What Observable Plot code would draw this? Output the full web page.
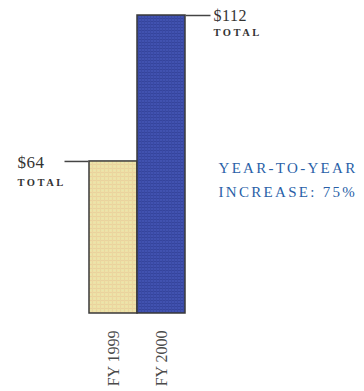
<!DOCTYPE html>
<html><head><meta charset="utf-8">
<script src="https://cdn.jsdelivr.net/npm/d3@7"></script>
<script src="https://cdn.jsdelivr.net/npm/@observablehq/plot@0.6"></script>
<style>
html,body{margin:0;padding:0;background:#fff;}
#chart{width:364px;height:391px;}
.ls-total text{letter-spacing:2.5px;}
.ls-note text{letter-spacing:2.3px;}
.ls-val text{letter-spacing:0.5px;}
</style></head>
<body><div id="chart"></div>
<script>
const years = ["FY 1999", "FY 2000"];
const totals = [64, 112];
const fills = ["url(#pYellow)", "url(#pBlue)"];
const valueLabels = ["$64", "$112"];
const subLabels = ["TOTAL", "TOTAL"];
const noteLines = ["YEAR-TO-YEAR", "INCREASE: 75%"];

const bars = years.map((y, i) => ({year: y, total: totals[i], fill: fills[i], label: valueLabels[i], sub: subLabels[i]}));

const defs = () => {
  const s = d3.create("svg:defs");
  const py = s.append("pattern").attr("id", "pYellow").attr("patternUnits", "userSpaceOnUse")
    .attr("width", 4).attr("height", 4);
  py.append("rect").attr("width", 4).attr("height", 4).attr("fill", "#efe1a6");
  py.append("rect").attr("x", 0).attr("y", 0).attr("width", 4).attr("height", 1).attr("fill", "#ead29e");
  py.append("rect").attr("x", 0).attr("y", 0).attr("width", 1).attr("height", 4).attr("fill", "#e9d7a0");
  py.append("rect").attr("x", 2).attr("y", 2).attr("width", 1).attr("height", 1).attr("fill", "#e4e8b0");
  const pb = s.append("pattern").attr("id", "pBlue").attr("patternUnits", "userSpaceOnUse")
    .attr("width", 3).attr("height", 3);
  pb.append("rect").attr("width", 3).attr("height", 3).attr("fill", "#4152b0");
  pb.append("rect").attr("x", 0).attr("y", 0).attr("width", 3).attr("height", 1).attr("fill", "#35449c");
  pb.append("rect").attr("x", 0).attr("y", 0).attr("width", 1).attr("height", 3).attr("fill", "#3a4aa4");
  return s.node();
};

const serif = "'Liberation Serif', 'DejaVu Serif', serif";

const chart = Plot.plot({
  width: 364,
  height: 391,
  marginLeft: 88,
  marginRight: 179,
  marginTop: 15,
  marginBottom: 78,
  style: {fontFamily: serif, background: "#fff"},
  x: {domain: years, padding: 0, axis: null},
  y: {domain: [14, 112], axis: null},
  marks: [
    defs,
    Plot.barY(bars, {x: "year", y1: 14, y2: "total", fill: "fill", stroke: "#3a3a3a", strokeWidth: 1.5}),
    Plot.tickY([bars[0]], {x: "year", y: "total", dx: -48.5, insetLeft: 24, stroke: "#444", strokeWidth: 1.5}),
    Plot.tickY([bars[1]], {x: "year", y: "total", dx: 48.5, insetRight: 23, stroke: "#444", strokeWidth: 1.5}),
    Plot.text([bars[0]], {x: "year", y: "total", text: "label", dx: -96, dy: 1, textAnchor: "start", fontSize: 17, fill: "#333", fontFamily: serif, className: "ls-val"}),
    Plot.text([bars[0]], {x: "year", y: "total", text: "sub", dx: -96, dy: 21, textAnchor: "start", fontSize: 10.5, fontWeight: "bold", fill: "#333", fontFamily: serif, className: "ls-total"}),
    Plot.text([bars[1]], {x: "year", y: "total", text: "label", dx: 52, dy: 0, textAnchor: "start", fontSize: 16, fill: "#333", fontFamily: serif, className: "ls-val"}),
    Plot.text([bars[1]], {x: "year", y: "total", text: "sub", dx: 52, dy: 17, textAnchor: "start", fontSize: 10.5, fontWeight: "bold", fill: "#333", fontFamily: serif, className: "ls-total"}),
    Plot.text([noteLines.join("\n")], {x: () => years[1], y: () => totals[0], text: d => d, dx: 57, dy: -5, lineAnchor: "top", lineHeight: 1.6, textAnchor: "start", fontSize: 15, fill: "#2a5fa8", fontFamily: serif, className: "ls-note"}),
    Plot.axisX({domain: years, label: null, tickRotate: -90, tickSize: 0, tickPadding: 17, fontSize: 16, fill: "#4a4a4a", fontFamily: serif})
  ]
});
document.getElementById("chart").appendChild(chart);
</script>
</body></html>
